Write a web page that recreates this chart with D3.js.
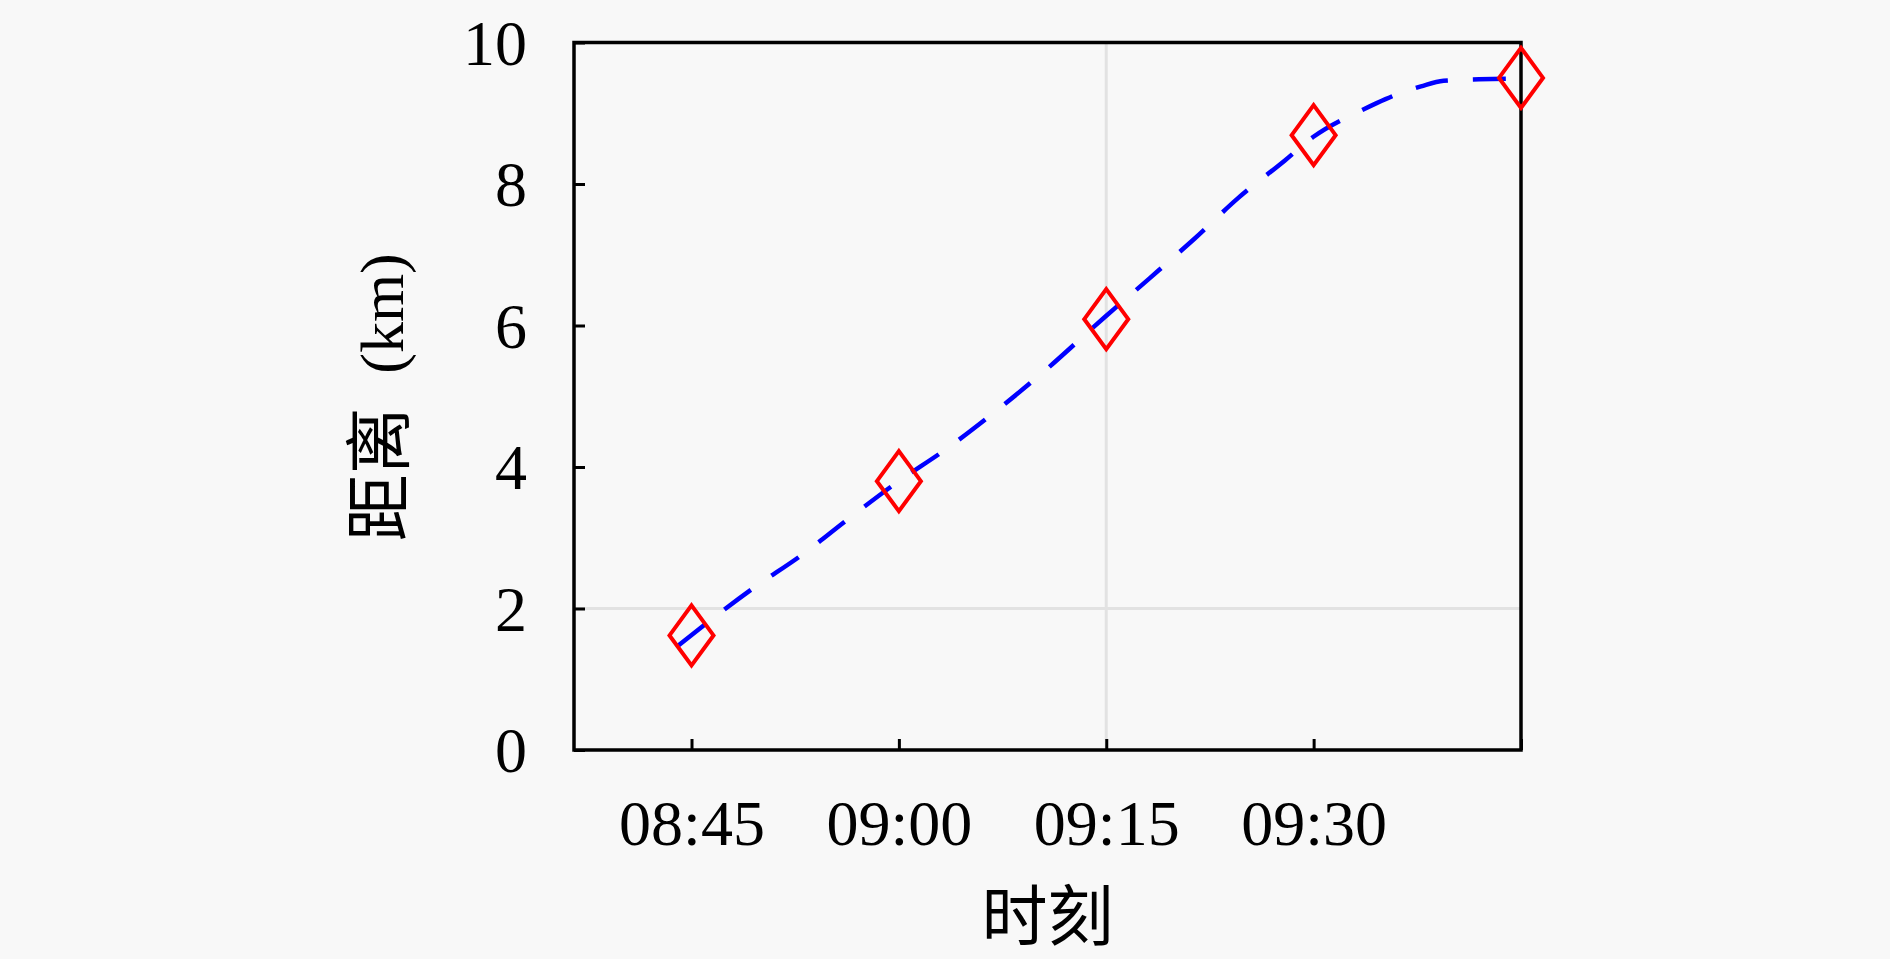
<!DOCTYPE html>
<html>
<head>
<meta charset="utf-8">
<script src="https://cdn.jsdelivr.net/npm/d3@7"></script>
<style>
  body { margin: 0; background: #f8f8f8; }
  svg { display: block; }
  .axis text { font-family: "Liberation Serif", serif; font-size: 64px; fill: #000; }
  .axis line { stroke: #000; stroke-width: 3px; }
  .axis path { display: none; }
</style>
</head>
<body>
<div class="chart"></div>
<script>
// measured points (diamonds)
const pointTimes = ["08:45", "09:00", "09:15", "09:30", "09:45"];
const pointKm = [1.62, 3.80, 6.09, 8.69, 9.50];

// dashed fitted curve
const fitTimes = ["08:44:04", "08:49:29", "08:53:00", "08:56:22", "08:59:51", "09:03:28",
                  "09:06:57", "09:10:19", "09:14:54", "09:18:09", "09:21:24", "09:24:32",
                  "09:27:54", "09:29:56", "09:33:40", "09:35:12", "09:37:46", "09:39:24",
                  "09:41:58", "09:44:18"];
const fitKm = [1.48, 2.29, 2.76, 3.27, 3.78, 4.26,
               4.78, 5.32, 6.12, 6.67, 7.23, 7.80,
               8.33, 8.66, 9.06, 9.20, 9.38, 9.46,
               9.48, 9.49];

const xTickLabels = ["08:45", "09:00", "09:15", "09:30"];
const xTickUnlabelled = ["09:45"];
const yTicks = [0, 2, 4, 6, 8, 10];
const xGrid = ["09:15"];
const yGrid = [2];
const xDomain = ["08:36:30", "09:45:00"];
const yDomain = [0, 10];

const svg_width = 1890;
const svg_height = 959;
const margin = {top: 42.5, right: 369, bottom: 209, left: 574};
const chart_width = svg_width - margin.left - margin.right;
const chart_height = svg_height - margin.top - margin.bottom;

const parseHM = d3.timeParse("%H:%M");
const parseHMS = d3.timeParse("%H:%M:%S");
const fmt = d3.timeFormat("%H:%M");

const points = pointTimes.map((t, i) => ({t: parseHM(t), v: pointKm[i]}));
const fit = fitTimes.map((t, i) => ({t: parseHMS(t), v: fitKm[i]}));

const svg = d3.select(".chart").append("svg")
  .attr("width", svg_width).attr("height", svg_height);
svg.append("rect").attr("width", svg_width).attr("height", svg_height).attr("fill", "#f8f8f8");

const g = svg.append("g").attr("transform", `translate(${margin.left},${margin.top})`);

const xScale = d3.scaleTime().domain(xDomain.map(parseHMS)).range([0, chart_width]);
const yScale = d3.scaleLinear().domain(yDomain).range([chart_height, 0]);

// grid lines
g.selectAll(".vgrid").data(xGrid.map(parseHM)).enter().append("line")
  .attr("x1", d => xScale(d)).attr("x2", d => xScale(d))
  .attr("y1", 0).attr("y2", chart_height)
  .attr("stroke", "#e2e2e2").attr("stroke-width", 3);
g.selectAll(".hgrid").data(yGrid).enter().append("line")
  .attr("x1", 0).attr("x2", chart_width)
  .attr("y1", d => yScale(d)).attr("y2", d => yScale(d))
  .attr("stroke", "#e2e2e2").attr("stroke-width", 3);

// axes, ticks point inward
const xTickDates = xTickLabels.concat(xTickUnlabelled).map(parseHM);
const xAxis = d3.axisBottom(xScale)
  .tickValues(xTickDates)
  .tickFormat(d => xTickLabels.includes(fmt(d)) ? fmt(d) : "")
  .tickSizeInner(-11).tickSizeOuter(0).tickPadding(50);
g.append("g").attr("class", "x axis")
  .attr("transform", `translate(0,${chart_height})`)
  .call(xAxis);

const yAxis = d3.axisLeft(yScale)
  .tickValues(yTicks)
  .tickSizeInner(-11).tickSizeOuter(0).tickPadding(47);
const yAxisDraw = g.append("g").attr("class", "y axis").call(yAxis);
yAxisDraw.selectAll("text").attr("dy", "0.34em");

// frame
g.append("rect")
  .attr("x", 0).attr("y", 0)
  .attr("width", chart_width).attr("height", chart_height)
  .attr("fill", "none").attr("stroke", "#000").attr("stroke-width", 3.5);

// dashed fit curve
const line = d3.line().x(d => xScale(d.t)).y(d => yScale(d.v)).curve(d3.curveMonotoneX);
g.append("path").datum(fit)
  .attr("d", line)
  .attr("fill", "none").attr("stroke", "#0000ff")
  .attr("stroke-width", 4.5)
  .attr("stroke-dasharray", "33,25");

// diamonds
const diamond = "M0,-30L22,0L0,30L-22,0Z";
g.selectAll(".pt").data(points).enter().append("path")
  .attr("class", "pt")
  .attr("d", diamond)
  .attr("transform", d => `translate(${xScale(d.t)},${yScale(d.v)})`)
  .attr("fill", "none").attr("stroke", "#ff0000").attr("stroke-width", 4);

// axis titles
g.append("text")
  .attr("x", chart_width / 2)
  .attr("y", 940 - margin.top)
  .attr("text-anchor", "middle")
  .style("font-family", "'Noto Sans CJK SC', sans-serif")
  .style("font-size", "66px")
  .text("时刻");

const yTitle = g.append("text")
  .attr("transform", `translate(${403 - margin.left},${chart_height / 2 + 1}) rotate(-90)`)
  .attr("text-anchor", "middle");
yTitle.append("tspan").style("font-family", "'Noto Sans CJK SC', sans-serif")
  .style("font-size", "67px").text("距离");
yTitle.append("tspan").attr("dx", 18).style("font-family", "'Liberation Serif', serif")
  .style("font-size", "62px").text(" (km)");
</script>
</body>
</html>
